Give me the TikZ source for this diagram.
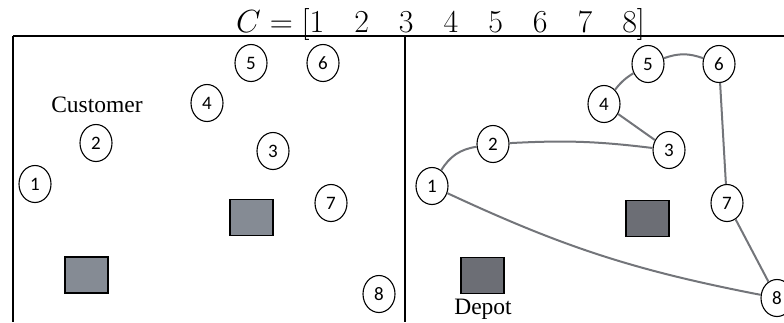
\RequirePackage{fix-cm}
\documentclass[tikz,border=0pt]{standalone}
\usepackage{fontspec}
\setmainfont{Liberation Serif}
\newfontfamily\numfont{Carlito}
\usetikzlibrary{shapes.geometric}
\usetikzlibrary{positioning}
\definecolor{routegray}{RGB}{115,117,122}
\definecolor{depotlight}{RGB}{133,139,148}
\definecolor{depotdark}{RGB}{108,110,117}
\tikzset{x=1pt, y=-1pt,  % one unit per pixel, y downwards
    cust/.style={            % customer nodes
        ellipse, draw, line width=1.1pt, fill=white,
        minimum width=32pt, minimum height=37pt, inner sep=0pt,
        font=\numfont\fontsize{19}{19}\selectfont},
    depot/.style={           % depot squares
        draw, line width=1.2pt,
        minimum width=43pt, minimum height=36pt, inner sep=0pt},
    lbl/.style={font=\fontsize{23.5}{24}\selectfont, inner sep=0pt, anchor=base},
    route/.style={draw=routegray, line width=2pt}}

\begin{document}
\begin{tikzpicture}
        \useasboundingbox (0,0) rectangle (784,322);

        % frame
        \draw[line width=1.3pt] (13,36) -- (784,36);
        \draw[line width=2.4pt] (13,36) -- (13,322);
        \draw[line width=2.4pt] (405,36) -- (405,322);

        % chromosome
        \node[inner sep=0pt, anchor=base west] (chrom) at (236,32)
            {\fontsize{32}{32}\selectfont $C=[1\hspace{30pt}2\hspace{30pt}3\hspace{30pt}4\hspace{30pt}5\hspace{30pt}6\hspace{30pt}7\hspace{30pt}8]$};

        % left: customers and depots
        \node[cust] (a1) at (35,184) {1};
        \node[cust] (a2) at (96,143) {2};
        \node[cust] (a3) at (273,151) {3};
        \node[cust] (a4) at (207,103) {4};
        \node[cust] (a5) at (251,63) {5};
        \node[cust] (a6) at (323,63) {6};
        \node[cust] (a7) at (331,203) {7};
        \node[cust] (a8) at (379,294) {8};
        \node[depot, fill=depotlight] (d1) at (86.5,275) {};
        \node[depot, fill=depotlight] (d2) at (251.5,217.5) {};
        \node[lbl] (custlbl) at (97,112) {Customer};

        % right: route
        \node[cust] (b1) at (432,186) {1};
        \node[cust] (b2) at (493,144) {2};
        \node[cust] (b3) at (669,150) {3};
        \node[cust] (b4) at (604,104) {4};
        \node[cust] (b5) at (648,64) {5};
        \node[cust] (b6) at (719,64) {6};
        \node[cust] (b7) at (727,203) {7};
        \node[cust] (b8) at (777,298) {8};
        \node[depot, fill=depotdark] (d3) at (482.5,275.5) {};
        \node[depot, fill=depotdark] (d4) at (647.5,218.5) {};
        \node[lbl] (depotlbl) at (483,314) {Depot};

        \draw[route] (b1) to[bend left=25] (b2);
        \draw[route] (b2) to[bend left=5] (b3);
        \draw[route] (b3) -- (b4);
        \draw[route] (b4) to[bend left=10] (b5);
        \draw[route] (b5) to[bend left=20] (b6);
        \draw[route] (b6) -- (b7);
        \draw[route] (b7) -- (b8);
        \draw[route] (b8) to[bend left=7] (b1);
    \end{tikzpicture}
\end{document}
